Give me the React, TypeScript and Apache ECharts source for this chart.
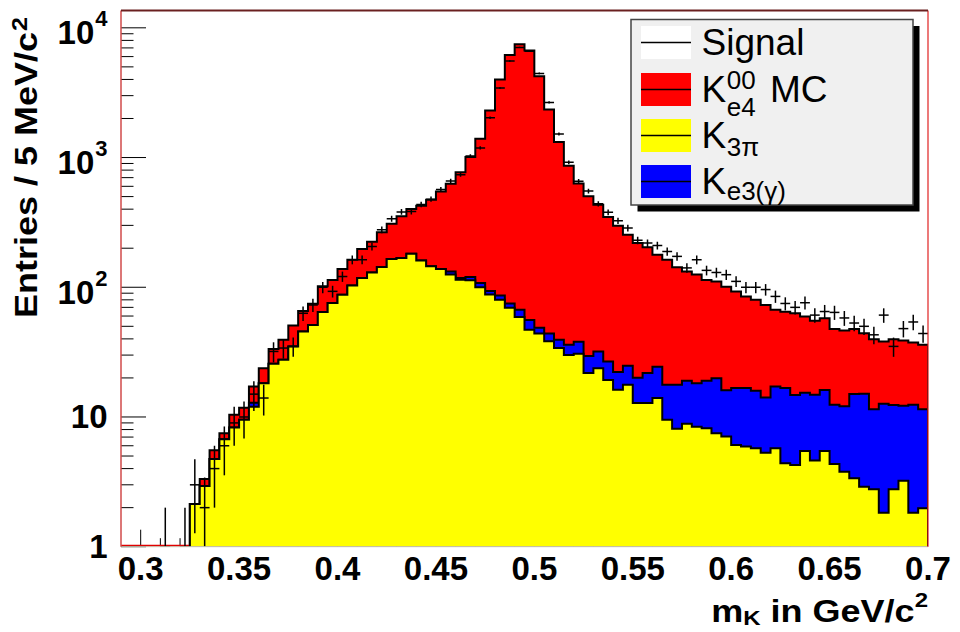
import React, { useEffect, useRef } from "react";
import * as echarts from "echarts";

// ---- binning: 82 bins of 5 MeV/c^2 between 0.29 and 0.70 GeV/c^2 ----
const X_MIN = 0.29;
const X_MAX = 0.7;
const BIN_W = 0.005;
const Y_MIN = 1;
const Y_MAX = 13600;

// ---- tick labels ----
const xTickLabels = [0.3, 0.35, 0.4, 0.45, 0.5, 0.55, 0.6, 0.65, 0.7];
const yTickLabels = [1, 10, 100, 1000, 10000];
const yTickExponents = [0, 1, 2, 3, 4];
const yMinorTicks = [
  2, 3, 4, 5, 6, 7, 8, 9,
  20, 30, 40, 50, 60, 70, 80, 90,
  200, 300, 400, 500, 600, 700, 800, 900,
  2000, 3000, 4000, 5000, 6000, 7000, 8000, 9000,
];

// ---- data (entries per bin) ----
const signalData = [
  0, 0, 0, 0, 1, 0, 1,
  3, 2, 4, 6, 9, 10, 15,
  14, 32, 34, 35, 63, 73, 100,
  93, 121, 163, 163, 206, 277, 338,
  381, 384, 435, 478, 568, 660, 738,
  1028, 1187, 2028, 3435, 5540, 7060, 6590,
  4450, 2660, 1521, 920, 657, 551, 440,
  378, 326, 286, 230, 219, 210, 189,
  173, 141, 163, 135, 130, 125, 111,
  100, 100, 96, 85, 75, 70, 76,
  61, 65, 64, 58, 53, 50, 43,
  61, 35, 48, 54, 44,
];

const k3piMC = [
  0, 0, 0, 0, 0, 0, 0,
  2.13, 2.94, 4.75, 6.74, 8.28, 9.5, 12.0,
  18.2, 25.7, 27.6, 34.9, 45.6, 51.1, 64.4,
  75.5, 87.5, 103, 118, 130, 143, 165,
  168, 181, 161, 145, 138, 125.5, 114.5,
  113.5, 100, 88, 80, 69.5, 59, 47,
  44, 38.4, 34, 30, 30.7, 21.8, 23.8,
  19.3, 16.2, 17.7, 12.8, 12.8, 14, 9.5,
  8.1, 8.85, 8.4, 8.2, 7.5, 7.06, 6.09,
  5.91, 5.74, 5.31, 5.74, 4.4, 4.27, 5.47,
  4.61, 5.47, 4.35, 3.79, 3.37, 2.9, 2.77,
  1.83, 2.77, 3.23, 1.83, 1.98,
];

const ke3MC = [
  0, 0, 0, 0, 0, 0, 0,
  0, 0, 0, 0, 0, 0, 0.9,
  0, 0, 0, 0, 0, 0, 0,
  0, 0, 0, 0, 0, 0, 0,
  0, 0, 0, 0, 0, 6.5, 3.5,
  6.5, 8, 5.5, 6.5, 5.5, 8, 9,
  4.7, 5.6, 5.4, 6, 7.3, 7.7, 8.2,
  7.5, 6, 7.1, 7.3, 9, 10.4, 8.2,
  9.6, 10.2, 9.8, 10.8, 12.4, 9, 10.6,
  10.8, 10.2, 8.8, 11.4, 12.3, 10.5, 9.9,
  10.2, 10.7, 8.1, 8.3, 11.7, 12.2, 8.7,
  10.8, 9.6, 9, 10.6, 9.5,
];

const ke4MC = [
  0, 0, 0, 0, 0, 0, 0,
  0, 0.39, 0.8, 0.76, 2.12, 2.3, 4.3,
  5.6, 7.7, 11.8, 15.8, 19.9, 23.5, 37.6,
  38.5, 50.5, 60, 79, 94, 122, 144,
  184, 220, 264, 328, 410, 497, 651,
  891, 1285, 2210, 3906, 6095, 7393, 6644,
  4176, 2299, 1281, 829, 592, 473, 401,
  321, 276, 229, 199, 182, 154, 145,
  125, 113, 107, 95, 91, 85, 76,
  68, 64, 59, 50, 48, 48.4, 44.2,
  40.4, 41.6, 35.2, 34.3, 32.5, 29.2, 28.3,
  25.6, 27.4, 26.7, 25.1, 24.5,
];

// ---- layout ----
const GRID = { left: 121, top: 10.5, width: 807, height: 536.2 };
const FONT = '"Liberation Sans", Arial, Helvetica, sans-serif';

let measureCtx: CanvasRenderingContext2D | null = null;
function tw(text: string, size: number, bold: boolean): number {
  if (!measureCtx) measureCtx = document.createElement("canvas").getContext("2d");
  if (!measureCtx) return text.length * size * 0.55;
  measureCtx.font = `${bold ? "bold " : ""}${size}px ${FONT}`;
  return measureCtx.measureText(text).width;
}

function txt(text: string, x: number, y: number, size: number, bold: boolean, align = "left", extra: any = {}) {
  return {
    type: "text",
    x,
    y,
    z: 100,
    ...extra,
    style: {
      text,
      fontSize: size,
      fontWeight: bold ? "bold" : "normal",
      fontFamily: FONT,
      fill: "#000",
      align,
      textAlign: align,
      verticalAlign: "middle",
      textVerticalAlign: "middle",
    },
  };
}

const edge = (k: number) => X_MIN + k * BIN_W;

function histLayer(tops: number[], color: string, z: number, zeroColor?: string) {
  return {
    type: "custom",
    coordinateSystem: "cartesian2d",
    z,
    clip: true,
    silent: true,
    data: [[0.5, 10]],
    renderItem: (_p: any, api: any) => {
      const first = tops.findIndex((v) => v > 0);
      const pts: number[][] = [api.coord([edge(first), Y_MIN])];
      for (let k = first; k < tops.length; k++) {
        const v = Math.max(tops[k], Y_MIN);
        pts.push(api.coord([edge(k), v]));
        pts.push(api.coord([edge(k + 1), v]));
      }
      pts.push(api.coord([edge(tops.length), Y_MIN]));
      const children: any[] = [
        { type: "polygon", shape: { points: pts }, style: { fill: color } },
        { type: "polyline", shape: { points: pts }, style: { fill: null, stroke: "#000", lineWidth: 2 } },
      ];
      if (zeroColor && first > 0) {
        const a = api.coord([X_MIN, Y_MIN]);
        const b = api.coord([edge(first), Y_MIN]);
        children.push({
          type: "line",
          shape: { x1: a[0], y1: a[1] - 1, x2: b[0], y2: b[1] - 1 },
          style: { stroke: zeroColor, lineWidth: 2 },
        });
      }
      return { type: "group", children };
    },
  };
}

function buildOption() {
  const yellowTop = k3piMC.slice();
  const blueTop = k3piMC.map((v, i) => v + ke3MC[i]);
  const redTop = k3piMC.map((v, i) => v + ke3MC[i] + ke4MC[i]);

  const signalPoints = signalData
    .map((v, k) => [X_MIN + (k + 0.5) * BIN_W, v])
    .filter((d) => d[1] > 0);

  const xTicks: number[][] = [];
  for (let i = 1; i < 41; i++) {
    const x = +(X_MIN + i * 0.01).toFixed(2);
    const major = Math.abs(x / 0.05 - Math.round(x / 0.05)) < 1e-6 ? 1 : 0;
    xTicks.push([x, major]);
  }
  const yTicks = [
    ...yTickLabels.map((v) => [X_MIN, v, 1]),
    ...yMinorTicks.map((v) => [X_MIN, v, 0]),
  ];

  // ---- legend / titles (graphic) ----
  const L = { x: 631, y: 19.5, w: 282, h: 185.5 };
  const rows = [42.5, 89.5, 135.5, 181.5];
  const swX = 641, swW = 50, swH = 33;
  const swatchColors = ["#ffffff", "#ff0000", "#ffff00", "#0000ff"];
  const graphic: any[] = [];
  graphic.push({ type: "rect", z: 90, shape: { x: L.x + 6.5, y: L.y + 6.5, width: L.w, height: L.h }, style: { fill: "#000" } });
  graphic.push({ type: "rect", z: 91, shape: { x: L.x, y: L.y, width: L.w, height: L.h }, style: { fill: "#f0f0f0", stroke: "#444", lineWidth: 1.5 } });
  rows.forEach((c, i) => {
    graphic.push({ type: "rect", z: 92, shape: { x: swX, y: c - swH / 2, width: swW, height: swH }, style: { fill: swatchColors[i] } });
    graphic.push({ type: "line", z: 93, shape: { x1: swX, y1: c, x2: swX + swW, y2: c }, style: { stroke: "#000", lineWidth: 1.5 } });
  });
  const tx = 701.5;
  const subX = tx + tw("K", 37, false) + 0.5;
  graphic.push(txt("Signal", tx, rows[0], 37, false));
  graphic.push(txt("K", tx, rows[1], 37, false));
  graphic.push(txt("00", subX, rows[1] - 10, 26, false));
  graphic.push(txt("e4", subX, rows[1] + 17.5, 26, false));
  graphic.push(txt("MC", 770, rows[1], 37, false));
  graphic.push(txt("K", tx, rows[2], 37, false));
  graphic.push(txt("3\u03c0", subX, rows[2] + 11.5, 26, false));
  graphic.push(txt("K", tx, rows[3], 37, false));
  graphic.push(txt("e3(\u03b3)", subX, rows[3] + 9.5, 26, false));

  // x-axis title: m_K in GeV/c^2, right aligned at axis end
  {
    const main1 = "m", sub = "K", main2 = " in GeV/c", sup = "2";
    const S = 36, s = 24;
    const w1 = tw(main1, S, true), w2 = tw(sub, s, true), w3 = tw(main2, S, true), w4 = tw(sup, s, true);
    const right = GRID.left + GRID.width;
    let x = right - (w1 + w2 + w3 + w4);
    const sc = { scaleY: 0.87 };
    graphic.push(txt(main1, x, 611, S, true, "left", sc)); x += w1;
    graphic.push(txt(sub, x, 618.5, s, true, "left", sc)); x += w2;
    graphic.push(txt(main2, x, 611, S, true, "left", sc)); x += w3;
    graphic.push(txt(sup, x, 600, s, true, "left", sc));
  }
  // y-axis title (rotated)
  {
    const main = "Entries / 5 MeV/c", sup = "2";
    const S = 36, s = 25;
    const w = tw(main, S, true);
    graphic.push({
      type: "group",
      x: 26,
      y: 318,
      rotation: Math.PI / 2,
      scaleY: 0.87,
      z: 100,
      children: [txt(main, 0, 0, S, true), txt(sup, w + 1, -7, s, true)],
    });
  }
  // frame
  const gl = GRID.left, gt = GRID.top, gr = GRID.left + GRID.width, gb = GRID.top + GRID.height;
  graphic.push({ type: "line", z: 95, shape: { x1: gl, y1: gb, x2: gr, y2: gb }, style: { stroke: "#c8c8b4", lineWidth: 1 } });
  graphic.push({ type: "line", z: 95, shape: { x1: gl, y1: gt, x2: gl, y2: gb }, style: { stroke: "#d04a4a", lineWidth: 1.5 } });
  graphic.push({ type: "line", z: 95, shape: { x1: gr, y1: gt, x2: gr, y2: gb }, style: { stroke: "#e02020", lineWidth: 1.2 } });
  graphic.push({ type: "line", z: 95, shape: { x1: gl, y1: gt, x2: gr, y2: gt }, style: { stroke: "#6a2020", lineWidth: 2 } });

  return {
    animation: false,
    backgroundColor: "#ffffff",
    grid: { ...GRID, show: false, containLabel: false },
    xAxis: { type: "value", min: X_MIN, max: X_MAX, show: false },
    yAxis: { type: "log", logBase: 10, min: Y_MIN, max: Y_MAX, show: false },
    graphic,
    series: [
      // x ticks (under the histograms)
      {
        type: "custom",
        coordinateSystem: "cartesian2d",
        z: 1,
        clip: false,
        silent: true,
        data: xTicks.map((t) => [t[0], Y_MIN, t[1]]),
        renderItem: (_p: any, api: any) => {
          const p = api.coord([api.value(0), Y_MIN]);
          const len = api.value(2) ? 17 : 8.5;
          return { type: "line", shape: { x1: p[0], y1: p[1], x2: p[0], y2: p[1] - len }, style: { stroke: "#000", lineWidth: 1 } };
        },
      },
      histLayer(redTop, "#ff0000", 3, "#e00000"),
      histLayer(blueTop, "#0000ff", 4),
      histLayer(yellowTop, "#ffff00", 5),
      // signal with error bars
      {
        type: "custom",
        name: "Signal",
        coordinateSystem: "cartesian2d",
        z: 6,
        clip: true,
        silent: true,
        data: signalPoints,
        renderItem: (_p: any, api: any) => {
          const c = api.value(0) as number;
          const v = api.value(1) as number;
          const e = Math.sqrt(v);
          const lo = Math.max(v - e, Y_MIN);
          const pL = api.coord([c - BIN_W / 2, v]);
          const pR = api.coord([c + BIN_W / 2, v]);
          const pB = api.coord([c, lo]);
          const pT = api.coord([c, v + e]);
          const st = { stroke: "#000", lineWidth: 1.5 };
          return {
            type: "group",
            children: [
              { type: "line", shape: { x1: pL[0], y1: pL[1], x2: pR[0], y2: pR[1] }, style: st },
              { type: "line", shape: { x1: pB[0], y1: pB[1], x2: pT[0], y2: pT[1] }, style: st },
            ],
          };
        },
      },
      // y ticks
      {
        type: "custom",
        coordinateSystem: "cartesian2d",
        z: 7,
        clip: false,
        silent: true,
        data: yTicks,
        renderItem: (_p: any, api: any) => {
          const p = api.coord([X_MIN, api.value(1)]);
          const len = api.value(2) ? 25 : 12.5;
          return { type: "line", shape: { x1: p[0], y1: p[1], x2: p[0] + len, y2: p[1] }, style: { stroke: "#000", lineWidth: 1 } };
        },
      },
      // x tick labels
      {
        type: "custom",
        coordinateSystem: "cartesian2d",
        z: 8,
        clip: false,
        silent: true,
        data: xTickLabels.map((v) => [v, Y_MIN]),
        renderItem: (_p: any, api: any) => {
          const v = api.value(0) as number;
          const p = api.coord([v, Y_MIN]);
          return txt(String(+v.toFixed(2)), p[0], p[1] + 22, 33, true, "center");
        },
      },
      // y tick labels
      {
        type: "custom",
        coordinateSystem: "cartesian2d",
        z: 8,
        clip: false,
        silent: true,
        data: yTickLabels.map((v, i) => [X_MIN, v, yTickExponents[i]]),
        renderItem: (_p: any, api: any) => {
          const v = api.value(1) as number;
          const ex = api.value(2) as number;
          const p = api.coord([X_MIN, v]);
          const right = p[0] - 13.5;
          if (ex <= 1) {
            return txt(ex === 0 ? "1" : "10", right, p[1], 33, true, "right");
          }
          const supW = tw(String(ex), 22, true);
          return {
            type: "group",
            children: [
              txt("10", right - supW - 1, p[1] + 5, 33, true, "right"),
              txt(String(ex), right - supW, p[1] - 9, 22, true, "left"),
            ],
          };
        },
      },
    ],
  };
}

export default function App() {
  const ref = useRef<HTMLDivElement | null>(null);
  useEffect(() => {
    if (!ref.current) return;
    const chart = echarts.init(ref.current, undefined, { renderer: "svg" });
    chart.setOption(buildOption() as any);
    return () => chart.dispose();
  }, []);
  return (
    <div
      ref={ref}
      style={{ position: "fixed", left: 0, top: 0, width: 960, height: 632, background: "#fff" }}
    />
  );
}
